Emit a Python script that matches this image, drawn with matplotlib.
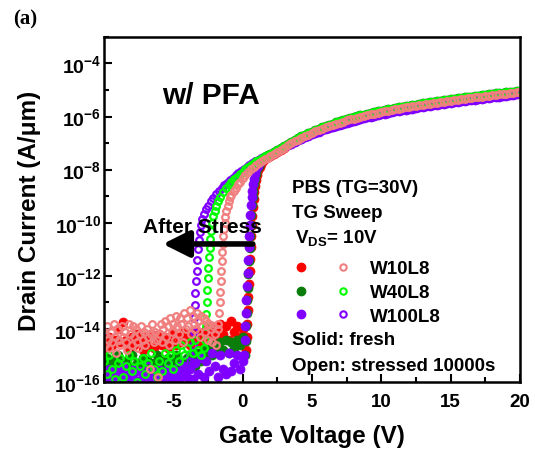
import matplotlib
matplotlib.use('Agg')
import matplotlib.pyplot as plt
import numpy as np
from matplotlib.lines import Line2D
from matplotlib.legend_handler import HandlerTuple
from matplotlib.ticker import FixedLocator, MultipleLocator, NullFormatter

plt.rcParams['font.family'] = 'Liberation Sans'
plt.rcParams['font.weight'] = 'bold'
plt.rcParams['mathtext.fontset'] = 'custom'
plt.rcParams['mathtext.rm'] = 'Liberation Sans:bold'
plt.rcParams['mathtext.bf'] = 'Liberation Sans:bold'
plt.rcParams['mathtext.it'] = 'Liberation Sans:bold'
plt.rcParams['axes.unicode_minus'] = False

# gate voltage sweeps (V)
v_noise_fresh = np.round(np.linspace(-10, 0, 51), 2)
v_noise_w10s = np.round(np.linspace(-10, -1.8, 83), 2)
v_noise_w40s = np.round(np.linspace(-10, -2.8, 37), 2)
v_noise_w100s = np.round(np.linspace(-10, -3.6, 33), 2)
v_on = np.round(np.linspace(2, 20, 73), 2)

# log10 of drain current (A/um)
# off-state floor, fresh
off_w10f = [-14.4, -14.7, -14.3, -14.6, -14.4, -14.0, -14.5, -13.75, -14.4, -14.7,
            -14.3, -14.6, -14.2, -14.5, -14.8, -14.3, -14.6, -14.2, -14.7, -14.4,
            -14.2, -14.6, -14.3, -14.7, -14.4, -14.2, -14.6, -14.3, -14.5, -14.1,
            -14.4, -14.6, -14.2, -14.4, -14.1, -14.5, -14.3, -14.0, -14.2, -13.9,
            -14.3, -14.1, -13.8, -14.2, -13.9, -14.4, -13.7, -14.1, -13.9, -14.3, -14.0]
off_w40f = [-15.4, -15.1, -15.6, -15.2, -15.5, -15.0, -15.3, -15.7, -15.2, -15.4,
            -15.0, -15.5, -15.3, -15.6, -15.1, -15.4, -15.2, -15.7, -15.3, -15.0,
            -15.5, -15.2, -15.4, -15.1, -15.6, -15.3, -15.0, -15.4, -15.2, -15.5,
            -15.1, -15.3, -15.0, -15.4, -14.9, -15.2, -14.8, -15.1, -14.7, -15.0,
            -14.6, -14.9, -14.5, -14.8, -14.4, -14.9, -14.5, -14.7, -14.4, -14.6, -14.3]
off_w100f = [-15.8, -16.0, -15.6, -15.9, -15.7, -16.1, -15.8, -15.5, -15.9, -16.0,
             -15.7, -15.9, -15.6, -16.0, -15.8, -15.7, -16.1, -15.9, -15.6, -15.8,
             -16.0, -15.7, -15.9, -15.5, -15.8, -16.0, -15.6, -15.9, -15.7, -15.4,
             -15.8, -15.5, -15.9, -15.3, -15.7, -15.1, -15.8, -15.2, -15.6, -14.9,
             -15.4, -15.8, -15.0, -15.5, -15.7, -14.9, -15.6, -15.3, -15.0, -15.5, -15.2]
# off-state floor, stressed
off_w10s = [-14.2, -14.6, -13.9, -14.4, -14.7, -14.1, -14.5, -13.8, -14.3, -14.9,
            -14.0, -14.4, -14.6, -13.9, -14.3, -14.1, -14.5, -14.8, -13.8, -14.2,
            -14.6, -13.9, -14.3, -14.0, -14.5, -14.7, -14.2, -13.9, -14.4, -14.1,
            -14.6, -14.0, -14.3, -15.5, -14.2, -13.8, -14.5, -14.1, -14.4, -15.8,
            -14.2, -13.8, -14.5, -14.0, -13.7, -14.3, -13.9, -14.6, -13.6, -14.1,
            -13.8, -14.4, -13.5, -13.9, -14.2, -13.6, -13.8, -14.5, -13.4, -14.0,
            -13.6, -13.9, -13.3, -14.2, -13.5, -13.8, -14.0, -13.4, -13.7, -14.3,
            -13.5, -13.9, -13.6, -14.1, -13.7, -14.4, -13.8, -14.0, -14.5, -13.9,
            -14.2, -14.6, -14.0]
off_w40s = [-15.2, -15.7, -15.0, -15.5, -15.9, -15.3, -15.1, -15.8, -15.4, -15.0,
            -15.6, -15.2, -16.0, -15.4, -15.1, -15.7, -15.3, -14.9, -15.5, -15.8,
            -15.2, -15.6, -14.9, -15.3, -15.0, -15.5, -14.8, -15.2, -14.6, -15.0,
            -14.7, -14.5, -14.9, -14.4, -14.8, -15.0, -14.7]
off_w100s = [-15.7, -16.0, -15.5, -15.9, -15.6, -16.1, -15.8, -15.4, -15.9, -15.7,
             -16.0, -15.5, -15.8, -15.6, -16.1, -15.7, -15.4, -15.9, -15.6, -15.8,
             -15.5, -16.0, -15.7, -15.3, -15.8, -15.5, -15.9, -15.4, -15.6, -15.2,
             -15.5, -15.0, -15.3]

# turn-on (subthreshold) region, fresh
v_rise_w10f = [0.25, 0.30, 0.35, 0.39, 0.43, 0.47, 0.51, 0.55, 0.59, 0.63, 0.67, 0.71,
               0.75, 0.80, 0.85, 0.91, 0.97, 1.05, 1.15, 1.25, 1.35, 1.50, 1.65, 1.80]
rise_w10f = [-14.8, -14.3, -13.8, -13.3, -12.8, -12.3, -11.8, -11.35, -10.9, -10.5, -10.1, -9.75,
             -9.4, -9.1, -8.85, -8.6, -8.4, -8.2, -8.03, -7.9, -7.8, -7.68, -7.6, -7.54]
v_rise_w40f = [0.17, 0.22, 0.27, 0.31, 0.35, 0.39, 0.43, 0.47, 0.51, 0.55, 0.59, 0.63,
               0.67, 0.72, 0.77, 0.83, 0.89, 0.97, 1.07, 1.17, 1.27, 1.40, 1.55, 1.70, 1.85]
rise_w40f = [-15.0, -14.45, -13.9, -13.4, -12.9, -12.45, -11.95, -11.45, -10.95, -10.5, -10.1, -9.7,
             -9.35, -9.05, -8.8, -8.55, -8.35, -8.15, -7.98, -7.85, -7.75, -7.65, -7.56, -7.49, -7.44]
v_rise_w100f = [0.10, 0.15, 0.20, 0.24, 0.28, 0.32, 0.36, 0.40, 0.44, 0.48, 0.52, 0.56,
                0.60, 0.65, 0.70, 0.76, 0.82, 0.90, 1.00, 1.10, 1.20, 1.35, 1.50, 1.65, 1.80]
rise_w100f = [-15.0, -14.4, -13.9, -13.4, -12.9, -12.4, -11.9, -11.4, -10.9, -10.5, -10.1, -9.7,
              -9.35, -9.05, -8.8, -8.55, -8.35, -8.15, -7.98, -7.85, -7.76, -7.68, -7.61, -7.55, -7.49]

# turn-on region, stressed 10000 s
v_rise_w10s = [-1.75, -1.70, -1.66, -1.62, -1.58, -1.54, -1.50, -1.46, -1.42, -1.38, -1.34, -1.29,
               -1.23, -1.16, -1.08, -1.00, -0.90, -0.80, -0.65, -0.50, -0.35, -0.20, 0.00, 0.20,
               0.40, 0.60, 0.80, 1.00, 1.20, 1.40, 1.60, 1.80]
rise_w10s = [-13.8, -13.4, -13.0, -12.6, -12.2, -11.8, -11.45, -11.1, -10.8, -10.5, -10.25, -10.0,
             -9.78, -9.56, -9.38, -9.2, -9.05, -8.95, -8.8, -8.68, -8.56, -8.45, -8.32, -8.2,
             -8.08, -7.98, -7.89, -7.81, -7.74, -7.67, -7.61, -7.56]
v_rise_w40s = [-2.70, -2.66, -2.62, -2.58, -2.54, -2.50, -2.46, -2.42, -2.38, -2.33, -2.27, -2.20,
               -2.10, -2.00, -1.90, -1.75, -1.60, -1.40, -1.20, -1.00, -0.80, -0.60, -0.40, -0.20,
               0.00, 0.20, 0.40, 0.60, 0.80, 1.00, 1.20, 1.40, 1.60, 1.80]
rise_w40s = [-14.4, -13.9, -13.45, -13.0, -12.55, -12.1, -11.7, -11.3, -10.95, -10.6, -10.3, -10.0,
             -9.75, -9.55, -9.38, -9.18, -9.02, -8.85, -8.7, -8.57, -8.46, -8.36, -8.26, -8.17,
             -8.08, -7.99, -7.91, -7.83, -7.76, -7.69, -7.62, -7.56, -7.5, -7.45]
v_rise_w100s = [-3.55, -3.51, -3.47, -3.43, -3.39, -3.35, -3.31, -3.27, -3.22, -3.16, -3.09, -3.00,
                -2.90, -2.80, -2.65, -2.50, -2.30, -2.10, -1.90, -1.70, -1.50, -1.30, -1.10, -0.90,
                -0.70, -0.50, -0.30, -0.10, 0.10, 0.30, 0.50, 0.70, 0.90, 1.10, 1.30, 1.50, 1.70, 1.90]
rise_w100s = [-14.6, -14.1, -13.6, -13.1, -12.65, -12.2, -11.8, -11.4, -11.0, -10.65, -10.35, -10.08,
              -9.85, -9.68, -9.5, -9.36, -9.2, -9.06, -8.93, -8.81, -8.7, -8.59, -8.49, -8.4,
              -8.3, -8.21, -8.12, -8.04, -7.96, -7.89, -7.82, -7.75, -7.69, -7.63, -7.58, -7.53, -7.49, -7.45]

# on-state (V = 2 .. 20 V, 0.25 V step); fresh and stressed overlap here
on_w10 = [-7.50, -7.41, -7.33, -7.25, -7.17, -7.09, -7.01, -6.94, -6.87, -6.80,
          -6.74, -6.68, -6.62, -6.56, -6.51, -6.46, -6.41, -6.36, -6.32, -6.27,
          -6.23, -6.19, -6.15, -6.11, -6.08, -6.04, -6.01, -5.98, -5.95, -5.92,
          -5.89, -5.86, -5.83, -5.81, -5.78, -5.76, -5.73, -5.71, -5.68, -5.66,
          -5.64, -5.62, -5.60, -5.58, -5.56, -5.54, -5.52, -5.50, -5.48, -5.46,
          -5.44, -5.42, -5.40, -5.38, -5.37, -5.35, -5.33, -5.31, -5.30, -5.28,
          -5.26, -5.25, -5.23, -5.21, -5.20, -5.18, -5.17, -5.15, -5.14, -5.12,
          -5.11, -5.09, -5.08]
on_w40 = [-7.42, -7.34, -7.26, -7.18, -7.10, -7.03, -6.95, -6.88, -6.81, -6.75,
          -6.68, -6.62, -6.57, -6.51, -6.46, -6.41, -6.36, -6.31, -6.27, -6.22,
          -6.18, -6.14, -6.10, -6.06, -6.03, -5.99, -5.96, -5.93, -5.90, -5.87,
          -5.84, -5.81, -5.78, -5.76, -5.73, -5.71, -5.68, -5.66, -5.63, -5.61,
          -5.59, -5.57, -5.55, -5.53, -5.51, -5.49, -5.47, -5.45, -5.43, -5.41,
          -5.39, -5.37, -5.35, -5.33, -5.32, -5.30, -5.28, -5.26, -5.25, -5.23,
          -5.21, -5.20, -5.18, -5.16, -5.15, -5.13, -5.12, -5.10, -5.09, -5.07,
          -5.06, -5.04, -5.03]
on_w100 = [-7.44, -7.37, -7.30, -7.23, -7.16, -7.09, -7.02, -6.96, -6.90, -6.84,
           -6.78, -6.72, -6.67, -6.62, -6.57, -6.52, -6.47, -6.43, -6.39, -6.35,
           -6.31, -6.27, -6.23, -6.19, -6.16, -6.12, -6.09, -6.06, -6.03, -6.00,
           -5.97, -5.94, -5.91, -5.89, -5.86, -5.84, -5.81, -5.79, -5.76, -5.74,
           -5.72, -5.70, -5.68, -5.66, -5.64, -5.62, -5.60, -5.58, -5.56, -5.54,
           -5.52, -5.50, -5.48, -5.46, -5.45, -5.43, -5.41, -5.39, -5.38, -5.36,
           -5.34, -5.33, -5.31, -5.29, -5.28, -5.26, -5.25, -5.23, -5.22, -5.20,
           -5.19, -5.17, -5.16]

devices = ['W10L8', 'W40L8', 'W100L8']
fresh_colors = ['#ff0000', '#0a7d0a', '#7f00ff']
stress_colors = ['#f07f7f', '#00ff00', '#8000ff']

fresh = [
    (v_noise_fresh, off_w10f, v_rise_w10f, rise_w10f, on_w10),
    (v_noise_fresh, off_w40f, v_rise_w40f, rise_w40f, on_w40),
    (v_noise_fresh, off_w100f, v_rise_w100f, rise_w100f, on_w100),
]
stressed = [
    (v_noise_w10s, off_w10s, v_rise_w10s, rise_w10s, on_w10),
    (v_noise_w40s, off_w40s, v_rise_w40s, rise_w40s, on_w40),
    (v_noise_w100s, off_w100s, v_rise_w100s, rise_w100s, on_w100),
]

fig = plt.figure(figsize=(5.35, 4.56), dpi=100)
ax = fig.add_axes([0.194, 0.160, 0.778, 0.757])

def sweep(vn, off, vr, rise, on):
    v = np.concatenate([vn, vr, v_on])
    i = 10.0 ** np.concatenate([off, rise, on])
    return v, i

# fresh: solid symbols
for (vn, off, vr, rise, on), c in zip(fresh, fresh_colors):
    v, i = sweep(vn, off, vr, rise, on)
    ax.semilogy(v, i, 'o', ls='none', ms=6.5, color=c, mec=c, mew=0.5)

# stressed: open symbols (W100 first so W10 ends on top)
for idx in [2, 1, 0]:
    vn, off, vr, rise, on = stressed[idx]
    v, i = sweep(vn, off, vr, rise, on)
    c = stress_colors[idx]
    ax.semilogy(v, i, 'o', ls='none', ms=4.8, mfc='none', mec=c, mew=1.6)

ax.set_xlim(-10, 20)
ax.set_ylim(1e-16, 1e-3)
ax.set_xticks([-10, -5, 0, 5, 10, 15, 20])
ax.xaxis.set_minor_locator(MultipleLocator(2.5))
ymaj = [10.0 ** k for k in range(-16, -3, 2)]
ax.set_yticks(ymaj)
ax.set_yticklabels([r'$\mathbf{10^{%d}}$' % k for k in range(-16, -3, 2)])
ax.yaxis.set_minor_locator(FixedLocator([10.0 ** k for k in range(-15, -2, 2)]))
ax.yaxis.set_minor_formatter(NullFormatter())

ax.tick_params(which='both', direction='in', top=False, right=False, width=1.5)
ax.tick_params(which='major', length=6)
ax.tick_params(which='minor', length=3.5)
ax.tick_params(axis='x', pad=8, labelsize=13.5)
ax.tick_params(axis='y', pad=2, labelsize=14)
for s in ax.spines.values():
    s.set_linewidth(1.8)

fig.text(0.056, 0.538, 'Drain Current (A/\u03bcm)', rotation=90, ha='center', va='center',
         fontsize=17.5, fontweight='bold')
fig.text(0.583, 0.042, 'Gate Voltage (V)', ha='center', va='center', fontsize=17.5, fontweight='bold')
fig.text(0.024, 0.958, '(a)', ha='left', va='center', fontsize=15, fontweight='bold',
         family='Liberation Serif')

ax.text(0.139, 0.832, 'w/ PFA', transform=ax.transAxes, ha='left', va='center',
        fontsize=21.5, fontweight='bold')
ax.text(0.094, 0.452, 'After Stress', transform=ax.transAxes, ha='left', va='center',
        fontsize=15, fontweight='bold')
ax.annotate('', xy=(0.142, 0.400), xytext=(0.358, 0.400), xycoords='axes fraction',
            arrowprops=dict(arrowstyle='-|>,head_length=0.8,head_width=0.4', mutation_scale=20,
                            lw=4, color='black', shrinkA=0, shrinkB=0))

tx = 0.452
ax.text(tx, 0.565, 'PBS (TG=30V)', transform=ax.transAxes, va='center', fontsize=13.5, fontweight='bold')
ax.text(tx, 0.490, 'TG Sweep', transform=ax.transAxes, va='center', fontsize=13.5, fontweight='bold')
ax.text(tx + 0.007, 0.420, r'$\mathbf{V_{DS}}$= 10V', transform=ax.transAxes, va='center',
        fontsize=13.5, fontweight='bold')
ax.text(tx, 0.122, 'Solid: fresh', transform=ax.transAxes, va='center', fontsize=13.5, fontweight='bold')
ax.text(tx, 0.049, 'Open: stressed 10000s', transform=ax.transAxes, va='center', fontsize=13.5,
        fontweight='bold')

handles = []
for cf, cs in zip(fresh_colors, stress_colors):
    h1 = Line2D([], [], marker='o', ls='none', ms=6, color=cf, mec=cf)
    h2 = Line2D([], [], marker='o', ls='none', ms=4.6, mfc='none', mec=cs, mew=1.5)
    handles.append((h1, h2))
ax.legend(handles, devices, handler_map={tuple: HandlerTuple(ndivide=None, pad=0)},
          loc='upper left', bbox_to_anchor=(0.423, 0.353), frameon=False, borderpad=0,
          borderaxespad=0, handlelength=4.48, handletextpad=0.32, labelspacing=0.36,
          prop={'weight': 'bold', 'size': 13.5})

fig.savefig('out.png', dpi=100)
